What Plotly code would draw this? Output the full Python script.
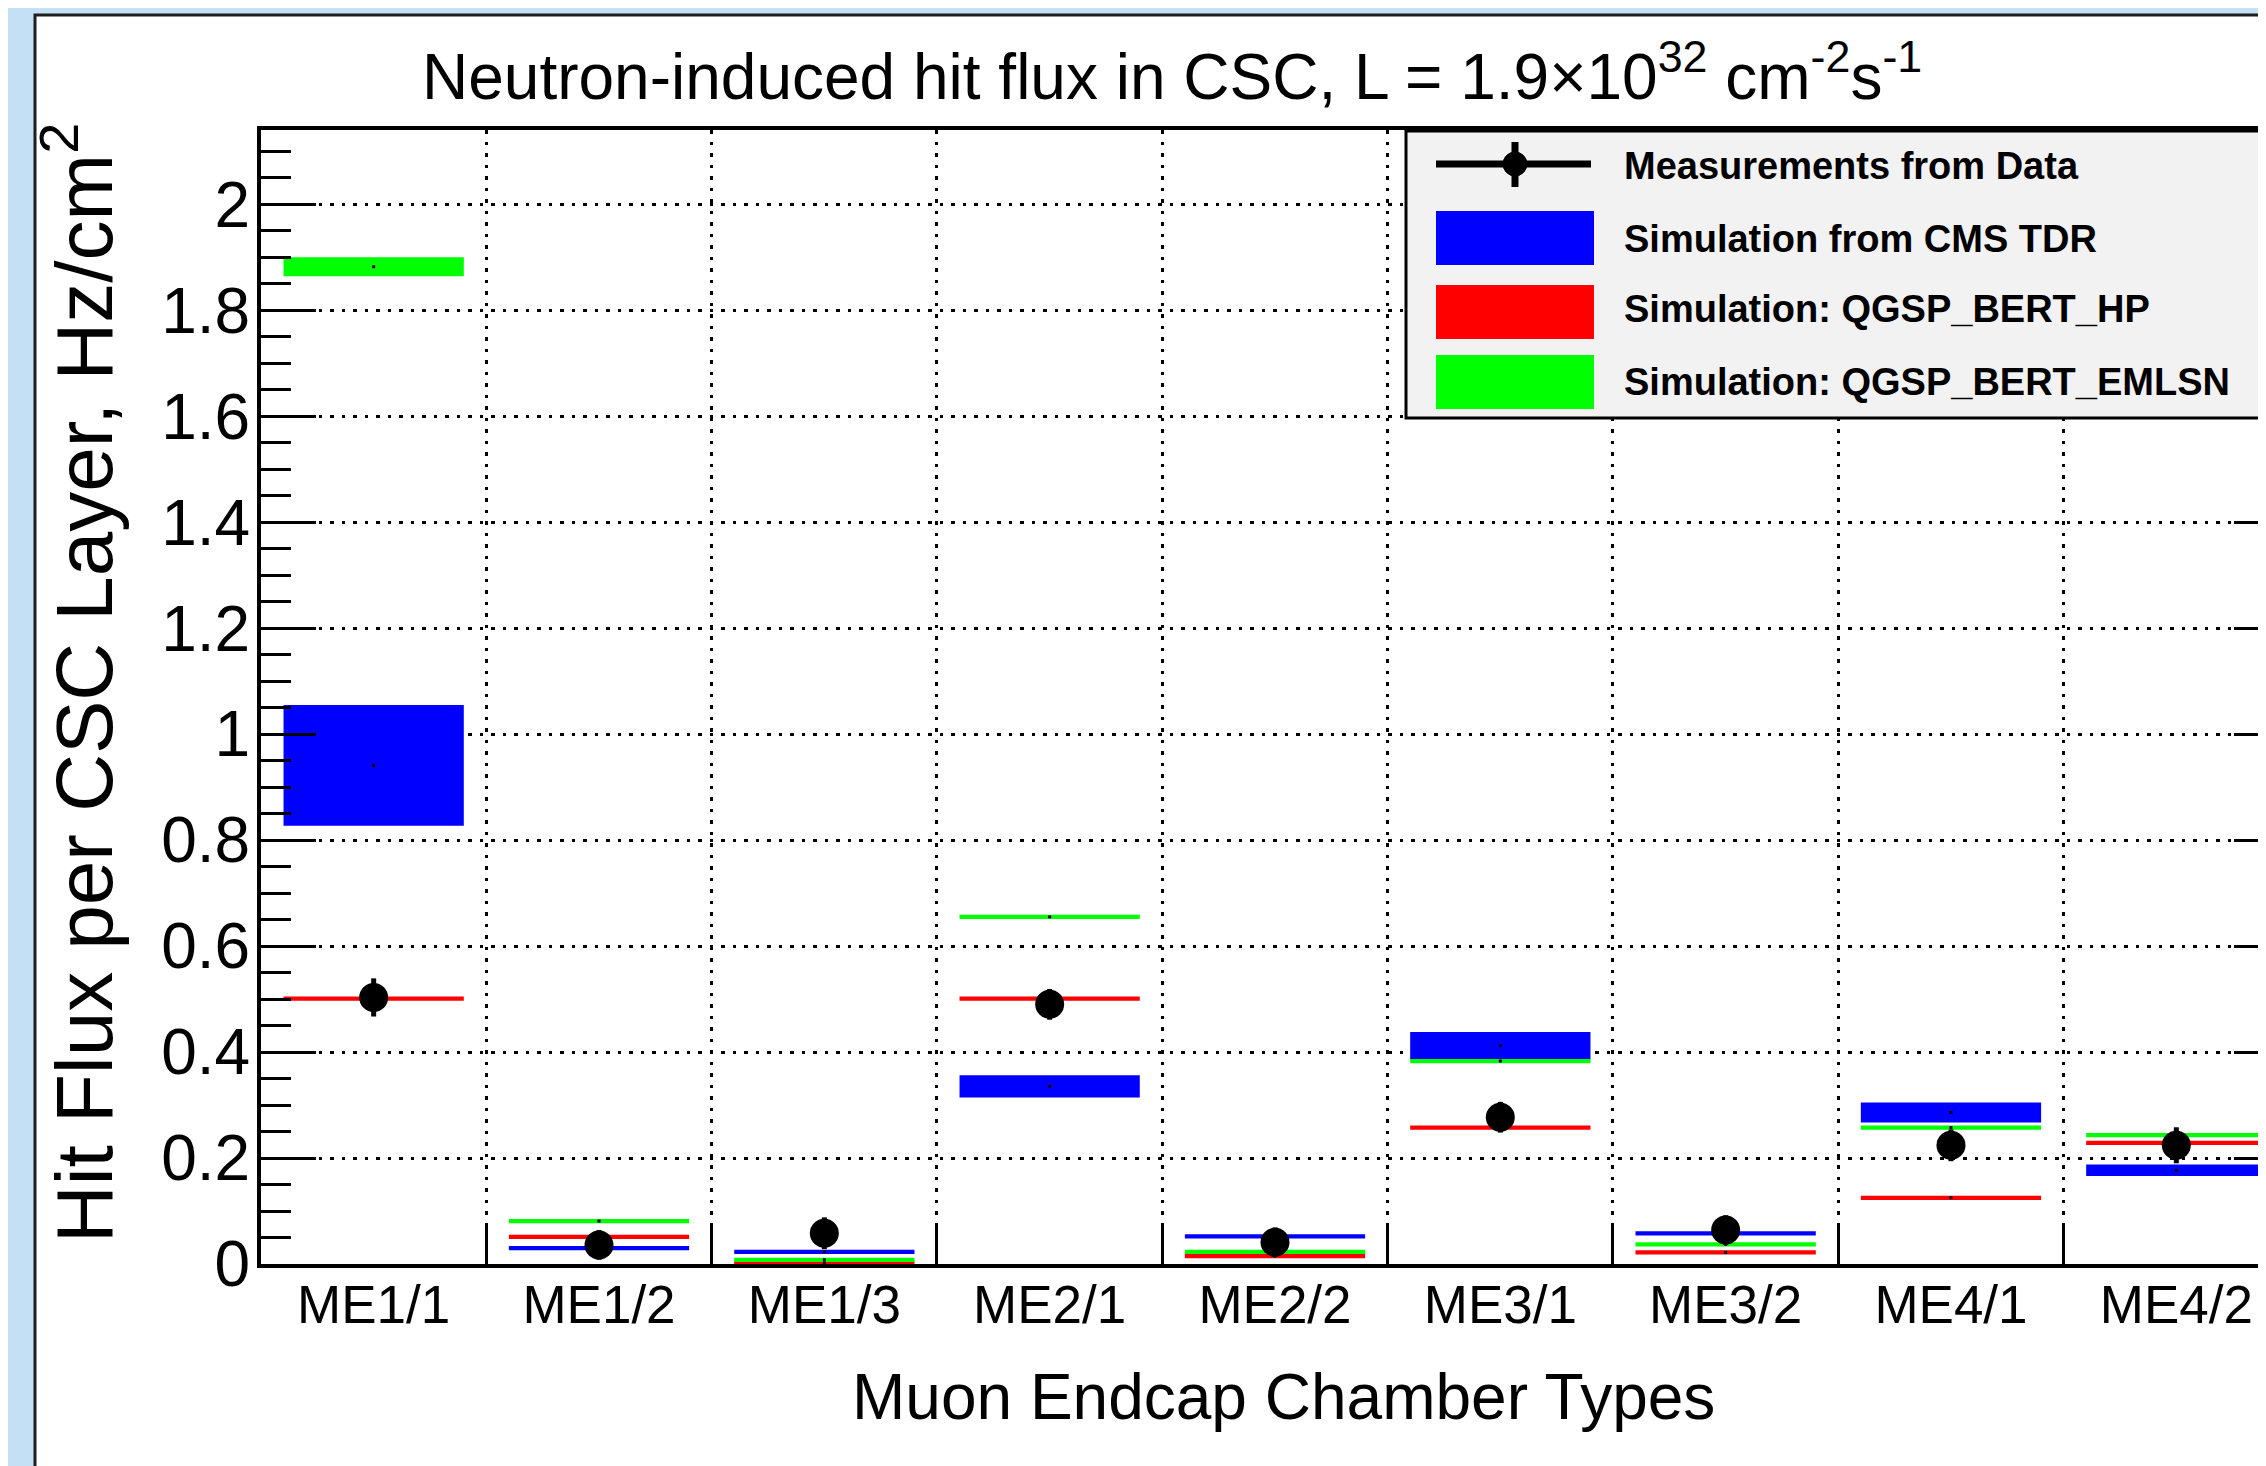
import plotly.graph_objects as go

# ---------------- data ----------------
categories = ["ME1/1", "ME1/2", "ME1/3", "ME2/1", "ME2/2", "ME3/1", "ME3/2", "ME4/1", "ME4/2"]

data_values = [0.503, 0.036, 0.058, 0.490, 0.041, 0.277, 0.064, 0.224, 0.224]
data_errors = [0.036, 0.028, 0.030, 0.029, 0.028, 0.029, 0.028, 0.030, 0.034]

tdr_values = [0.941, 0.030, 0.023, 0.335, 0.052, 0.412, 0.058, 0.286, 0.177]
tdr_errors = [0.114, 0.004, 0.004, 0.021, 0.004, 0.026, 0.004, 0.019, 0.011]

hp_values = [0.501, 0.051, 0.002, 0.501, 0.015, 0.2575, 0.022, 0.125, 0.2285]
hp_errors = [0.004, 0.004, 0.004, 0.004, 0.004, 0.004, 0.004, 0.004, 0.004]

emlsn_values = [1.882, 0.081, 0.008, 0.655, 0.023, 0.383, 0.037, 0.2575, 0.243]
emlsn_errors = [0.018, 0.004, 0.004, 0.004, 0.004, 0.004, 0.004, 0.004, 0.004]

legend_labels = ["Measurements from Data", "Simulation from CMS TDR",
                 "Simulation: QGSP_BERT_HP", "Simulation: QGSP_BERT_EMLSN"]
sim_colors = ["#0000ff", "#ff0000", "#00ff00"]

title_text = "Neutron-induced hit flux in CSC, L = 1.9\u00d710<sup>32</sup> cm<sup>-2</sup>s<sup>-1</sup>"
y_title = "Hit Flux per CSC Layer, Hz/cm<sup>2</sup>"
x_title = "Muon Endcap Chamber Types"

# ---------------- layout geometry (page pixels; page has an 8px body margin) ----------------
OFF = 8
W, H = 2266 - OFF, 1466 - OFF
L, R, T, B = 261 - OFF, 0, 130 - OFF, 202
FONT = "Liberation Sans, Arial, Helvetica, sans-serif"


def px(x):
    return (x - OFF - L) / (W - L - R)


def py(y):
    return (H - B - (y - OFF)) / (H - T - B)


xpos = list(range(len(categories)))
n_bins = len(categories)
bin_edges = [i + 0.5 for i in range(n_bins - 1)]

fig = go.Figure()

sim_sets = [(tdr_values, tdr_errors), (hp_values, hp_errors), (emlsn_values, emlsn_errors)]
for (vals, errs), col, name in zip(sim_sets, sim_colors, legend_labels[1:]):
    fig.add_trace(go.Bar(
        x=xpos, base=[v - e for v, e in zip(vals, errs)], y=[2 * e for e in errs],
        width=0.8, marker=dict(color=col, line=dict(width=0)), name=name,
        showlegend=False, hoverinfo="skip"))

# data points
fig.add_trace(go.Scatter(
    x=xpos, y=data_values, mode="markers",
    marker=dict(symbol="circle", size=29, color="black"),
    error_y=dict(type="data", array=data_errors, visible=True, thickness=5, width=0, color="black"),
    name=legend_labels[0], showlegend=False))

# tiny centre markers of the simulated histograms (drawn on the overlaying axes)
for vals in [tdr_values, hp_values, emlsn_values]:
    fig.add_trace(go.Scatter(
        x=xpos, y=vals, mode="markers", xaxis="x2", yaxis="y2",
        marker=dict(symbol="square", size=3, color="black", line=dict(width=0)),
        showlegend=False, hoverinfo="skip"))

YMAX = 2.14
XMIN, XMAX = -0.5, 8.398
grid_dash = "3.5px,8px"

fig.update_layout(
    width=W, height=H, autosize=False,
    margin=dict(l=L, r=R, t=T, b=B, pad=0),
    paper_bgcolor="#c3e0f4", plot_bgcolor="white",
    barmode="overlay", showlegend=False,
    font=dict(family=FONT, color="black"),
    xaxis=dict(
        range=[XMIN, XMAX], fixedrange=True,
        tickmode="array", tickvals=xpos, ticktext=categories, ticks="",
        tickfont=dict(size=53, family=FONT, color="black"),
        showgrid=False, zeroline=False,
        showline=True, linecolor="black", linewidth=4, mirror=True,
        layer="below traces",
        ticklabelstandoff=-9,
    ),
    xaxis2=dict(
        range=[XMIN, XMAX], fixedrange=True, overlaying="x", anchor="free", position=0,
        side="bottom",
        tickmode="array", tickvals=bin_edges, ticks="inside", ticklen=40,
        tickwidth=3, tickcolor="black", showticklabels=False,
        showgrid=True, gridcolor="black", gridwidth=3, griddash=grid_dash,
        zeroline=False, showline=False, layer="below traces",
    ),
    yaxis=dict(
        range=[0, YMAX], fixedrange=True,
        tick0=0, dtick=0.2, ticks="inside", ticklen=55, tickwidth=3, tickcolor="black",
        tickfont=dict(size=64, family=FONT, color="black"),
        showgrid=True, gridcolor="black", gridwidth=3, griddash=grid_dash,
        zeroline=False, showline=True, linecolor="black", linewidth=4,
        minor=dict(dtick=0.05, ticks="inside", ticklen=30, tickwidth=3, tickcolor="black",
                   showgrid=False),
        layer="above traces",
        ticklabelstandoff=-6,
    ),
    yaxis2=dict(
        range=[0, YMAX], fixedrange=True, overlaying="y", side="right",
        anchor="free", position=1,
        tick0=0, dtick=0.2, ticks="inside", ticklen=32, tickwidth=3, tickcolor="black",
        showticklabels=False, showgrid=False, zeroline=False, showline=False,
        minor=dict(dtick=0.05, ticks="inside", ticklen=7, tickwidth=3, tickcolor="black",
                   showgrid=False),
    ),
)

shapes = []
annotations = []

# screenshot canvas (white pad with dark border) and small orange box at far left
shapes.append(dict(type="rect", xref="paper", yref="paper", layer="below",
                   x0=px(35), x1=px(2320), y0=py(15), y1=py(1520),
                   fillcolor="white", line=dict(color="#1e1e1e", width=3)))
shapes.append(dict(type="rect", xref="paper", yref="paper", layer="below",
                   x0=px(-2), x1=px(4), y0=py(400), y1=py(592),
                   fillcolor="#f2b600", line=dict(color="#3a2a00", width=1)))

# legend box
shapes.append(dict(type="rect", xref="paper", yref="paper",
                   x0=px(1406), x1=px(2330), y0=py(131), y1=py(418),
                   fillcolor="#f2f2f2", line=dict(color="black", width=3)))
# data entry symbol
shapes.append(dict(type="line", xref="paper", yref="paper",
                   x0=px(1436), x1=px(1591), y0=py(164), y1=py(164),
                   line=dict(color="black", width=7)))
shapes.append(dict(type="line", xref="paper", yref="paper",
                   x0=px(1515), x1=px(1515), y0=py(142), y1=py(187),
                   line=dict(color="black", width=7)))
shapes.append(dict(type="circle", xref="paper", yref="paper",
                   x0=px(1503), x1=px(1527), y0=py(152), y1=py(176),
                   fillcolor="black", line=dict(color="black", width=1)))
# simulation entry swatches
swatch_tops = [211, 285, 355]
for col, top in zip(sim_colors, swatch_tops):
    shapes.append(dict(type="rect", xref="paper", yref="paper",
                       x0=px(1436), x1=px(1594), y0=py(top), y1=py(top + 54),
                       fillcolor=col, line=dict(width=0)))

label_centres = [166, 239, 309, 382]
for lab, yc in zip(legend_labels, label_centres):
    annotations.append(dict(text=lab, xref="paper", yref="paper", x=px(1622), y=py(yc),
                            xanchor="left", yanchor="middle", showarrow=False,
                            font=dict(family=FONT, size=38, color="black", weight="bold")))

# titles
annotations.append(dict(text=title_text, xref="paper", yref="paper", x=px(1172), y=py(72),
                        xanchor="center", yanchor="middle", showarrow=False,
                        font=dict(family=FONT, size=64, color="black")))
annotations.append(dict(text=x_title, xref="paper", yref="paper", x=px(1283), y=py(1397),
                        xanchor="center", yanchor="middle", showarrow=False,
                        font=dict(family=FONT, size=64, color="black")))
annotations.append(dict(text=y_title, xref="paper", yref="paper", x=px(78), y=py(683),
                        xanchor="center", yanchor="middle", textangle=-90, showarrow=False,
                        font=dict(family=FONT, size=80, color="black")))

fig.update_layout(shapes=shapes, annotations=annotations)

fig.write_html("out.html", config={"displayModeBar": False})
